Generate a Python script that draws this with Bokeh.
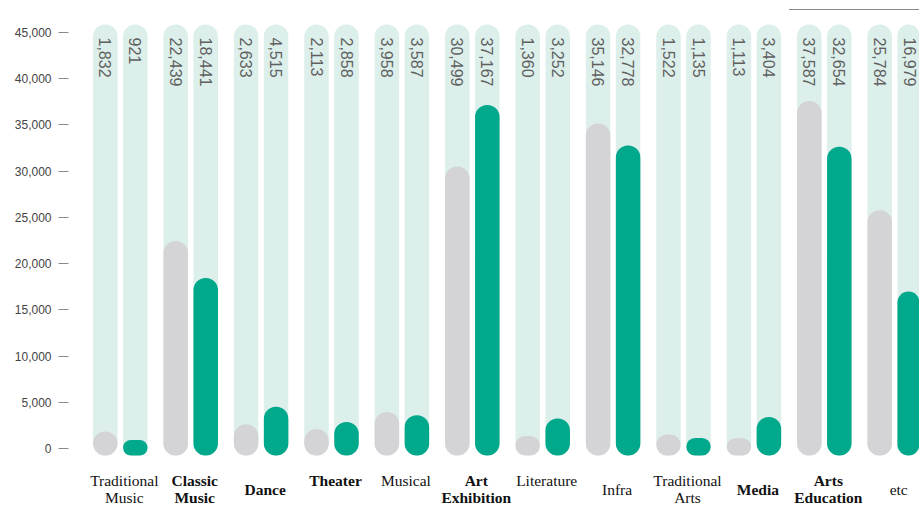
import math
from bokeh.plotting import figure
from bokeh.models import ColumnDataSource, FixedTicker, NumeralTickFormatter, Range1d
from bokeh.transform import dodge
from bokeh.core.properties import value
from bokeh.embed import file_html
from bokeh.resources import INLINE

# ---- data ----
categories = ["Traditional\nMusic", "Classic\nMusic", "Dance", "Theater", "Musical",
              "Art\nExhibition", "Literature", "Infra", "Traditional\nArts", "Media",
              "Arts\nEducation", "etc"]
bold_categories = ["Classic\nMusic", "Dance", "Theater", "Art\nExhibition", "Media",
                   "Arts\nEducation"]
centered_categories = ["Dance", "Infra", "Media", "etc"]
series_gray = [1832, 22439, 2633, 2113, 3958, 30499, 1360, 35146, 1522, 1113, 37587, 25784]
series_teal = [921, 18441, 4515, 2858, 3587, 37167, 3252, 32778, 1135, 3404, 32654, 16979]
y_ticks = [0, 5000, 10000, 15000, 20000, 25000, 30000, 35000, 40000, 45000]

# ---- geometry (pixels -> data helpers) ----
W, H = 919, 506
BORDER_L = 68
PX_PER_UNIT_Y = 416 / 45000.0      # 45,000 spans 416 px
ZERO_PX = 448                       # zero line, px from frame top
PX_PER_GROUP = 70.4
FIRST_CENTER_PX = 51.8              # group 0 center, px from frame left

def ypx(py):
    """frame-relative pixel row -> data value"""
    return (ZERO_PX - py) / PX_PER_UNIT_Y

y_start, y_end = ypx(H), ypx(0)
frame_w = W - BORDER_L
x_start = -FIRST_CENTER_PX / PX_PER_GROUP
x_end = x_start + frame_w / PX_PER_GROUP

bar_w = 24.5 / PX_PER_GROUP
off = 15 / PX_PER_GROUP
label_shift = 4 / PX_PER_GROUP

TRACK = "#dcefeb"
GRAY = "#d4d4d7"
TEAL = "#00a88c"

xs = list(range(len(categories)))
bottom_val = ypx(ZERO_PX + 7)
track_top = ypx(24)

src = ColumnDataSource(dict(
    x=xs,
    gray=series_gray,
    teal=series_teal,
    gray_lbl=[f"{v:,}" for v in series_gray],
    teal_lbl=[f"{v:,}" for v in series_teal],
    track=[track_top] * len(xs),
    bottom=[bottom_val] * len(xs),
))

p = figure(width=W, height=H, output_backend="svg", toolbar_location=None,
           x_range=Range1d(x_start, x_end), y_range=Range1d(y_start, y_end),
           min_border_left=BORDER_L, min_border_right=0, min_border_top=0,
           min_border_bottom=0)
p.outline_line_color = None
p.xgrid.visible = False
p.ygrid.visible = False
p.xaxis.visible = False
p.background_fill_color = "white"
p.border_fill_color = "white"

yax = p.yaxis[0]
yax.ticker = FixedTicker(ticks=y_ticks)
yax.formatter = NumeralTickFormatter(format="0,0")
yax.axis_line_color = None
yax.major_tick_line_color = "#8a8a8a"
yax.major_tick_out = 10
yax.major_tick_in = 0
yax.minor_tick_line_color = None
yax.major_label_standoff = 7
yax.major_label_text_font = "Liberation Sans"
yax.major_label_text_font_size = "12px"
yax.major_label_text_color = "#444444"

for dx, col, color in [(-off, "gray", GRAY), (off, "teal", TEAL)]:
    xd = dodge("x", dx, range=p.x_range)
    p.vbar(x=xd, top="track", bottom="bottom", width=bar_w, source=src,
           fill_color=TRACK, line_color=None, border_radius=12)
    p.vbar(x=xd, top=col, bottom="bottom", width=bar_w, source=src,
           fill_color=color, line_color=None, border_radius=12)
    p.text(x=xd, y=ypx(37), text=col + "_lbl", source=src, angle=-math.pi / 2,
           text_align="left", text_baseline="middle",
           text_font=value("Liberation Sans"), text_font_size="16px",
           text_color="#606060")

# category labels
for bold in (True, False):
    for centered in (True, False):
        sel = [i for i, c in enumerate(categories)
               if (c in bold_categories) == bold and (c in centered_categories) == centered]
        if not sel:
            continue
        s = ColumnDataSource(dict(x=[xs[i] for i in sel], t=[categories[i] for i in sel]))
        p.text(x=dodge("x", label_shift, range=p.x_range),
               y=ypx(489) if centered else ypx(471), text="t", source=s,
               text_align="center", text_baseline="middle" if centered else "top",
               text_font=value("Liberation Serif"), text_font_size="15.5px",
               text_font_style="bold" if bold else "normal",
               text_line_height=1.05, text_color="#111111")

# header rule at top right
p.segment(x0=[len(categories) - 2.5], x1=[x_end], y0=[ypx(9)], y1=[ypx(9)],
          line_color="#888888", line_width=1.2)

open("out.html", "w").write(file_html(p, INLINE))
